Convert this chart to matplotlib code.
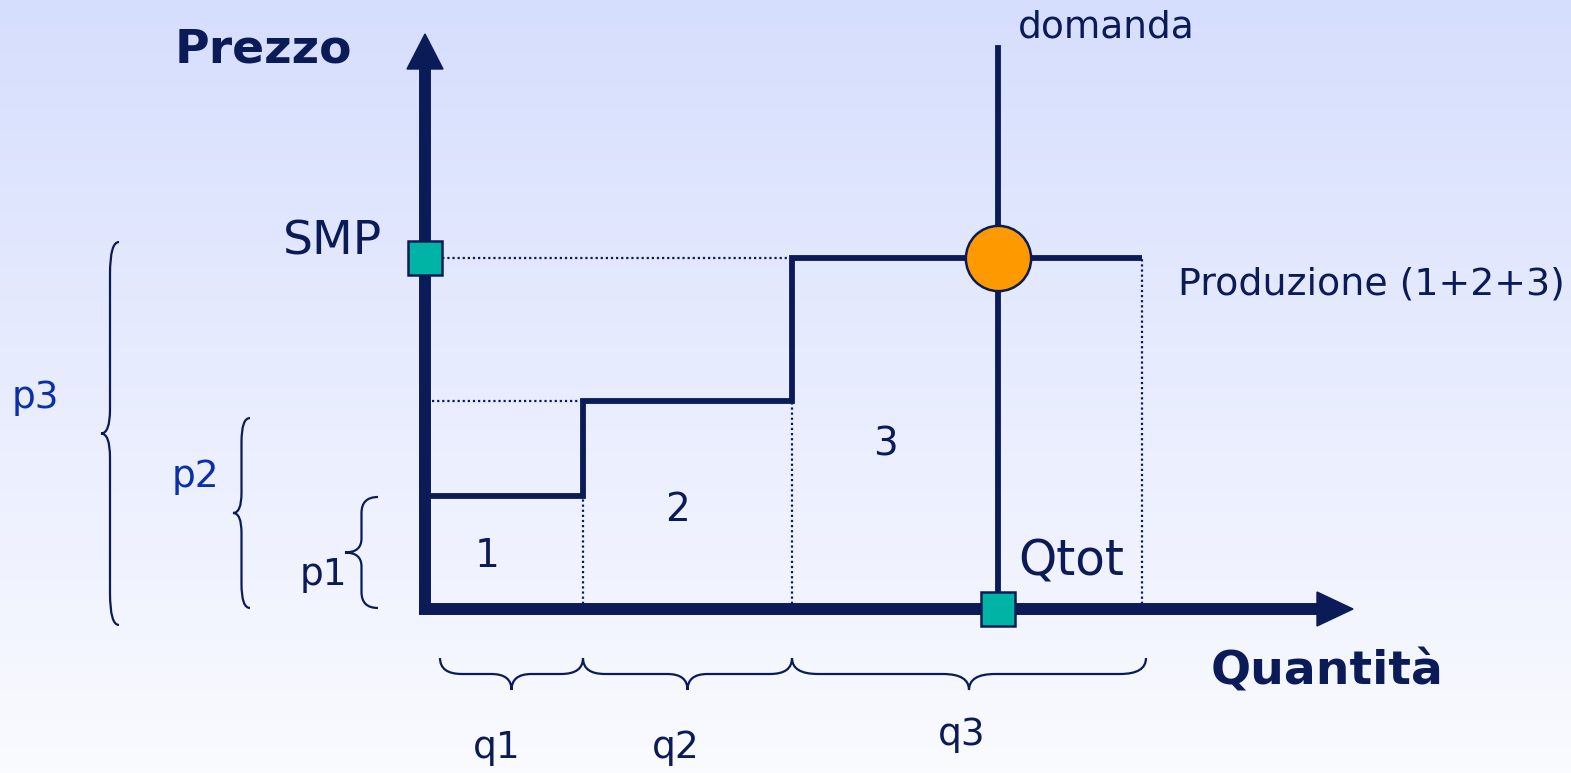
import numpy as np
import matplotlib.pyplot as plt
from matplotlib.path import Path
from matplotlib.patches import PathPatch, Polygon

# Quantities offered by the three producers and their prices
quantities = [15.8, 20.9, 35.0]
prices = [11.3, 20.8, 35.1]
q_labels = ['q1', 'q2', 'q3']
p_labels = ['p1', 'p2', 'p3']
block_labels = ['1', '2', '3']
q_tot = 57.3
smp = prices[-1]

navy = '#0b1b57'
blue = '#0a2fa8'
teal = '#00b4a5'
orange = '#ff9900'

edges = np.concatenate([[0], np.cumsum(quantities)])

fig = plt.figure(figsize=(15.71, 7.73), dpi=100)
ax = fig.add_axes([0, 0, 1, 1])
ax.set_xlim(-42.5, 114.6)
ax.set_ylim(-16.4, 60.9)
ax.axis('off')

# background gradient
grad = np.linspace(0, 1, 256).reshape(-1, 1)
top = np.array([214, 222, 253]) / 255
bot = np.array([250, 251, 255]) / 255
img = top + (bot - top) * grad[:, :, None]
ax.imshow(img, extent=[-42.5, 114.6, -16.4, 60.9], aspect='auto', zorder=0)


def brace(a, b, base, depth, vertical=False, r=1.5, rt=None):
    # curly brace between a and b, ends at base, tip at base - depth
    L = b - a
    m = L / 2
    h = depth / 2
    rt = r if rt is None else rt
    uv = [(0, 0), (0, h), (r, h), (m - rt, h), (m, h), (m, depth),
          (m, h), (m + rt, h), (L - r, h), (L, h), (L, 0)]
    codes = [Path.MOVETO, Path.CURVE3, Path.CURVE3, Path.LINETO,
             Path.CURVE3, Path.CURVE3, Path.CURVE3, Path.CURVE3,
             Path.LINETO, Path.CURVE3, Path.CURVE3]
    if vertical:
        verts = [(base - v, a + u) for u, v in uv]
    else:
        verts = [(a + u, base - v) for u, v in uv]
    ax.add_patch(PathPatch(Path(verts, codes), fill=False, edgecolor=navy,
                           lw=1.6, zorder=3))


# dotted guide lines
dots = dict(color=navy, lw=1.6, linestyle=(0, (1, 1.3)), zorder=2)
ax.plot([0.7, edges[2]], [smp, smp], **dots)
ax.plot([0.7, edges[1]], [prices[1], prices[1]], **dots)
for x, p in zip(edges[1:], prices):
    ax.plot([x, x], [0, p], **dots)

# supply curve
ax.stairs(prices, edges, baseline=None, color=navy, lw=4.2, zorder=4)

# demand
ax.plot([q_tot, q_tot], [0, 56.1], color=navy, lw=4.2, zorder=4)

# axes with arrows
ax.plot([0, 0], [0, 54.5], color=navy, lw=8.6, solid_capstyle='butt', zorder=5)
ax.plot([-0.6, 89.5], [0, 0], color=navy, lw=8.6, solid_capstyle='butt', zorder=5)
ax.add_patch(Polygon([(-1.8, 54.0), (1.8, 54.0), (0, 57.5)], color=navy, zorder=5))
ax.add_patch(Polygon([(89.2, -1.7), (89.2, 1.7), (92.8, 0)], color=navy, zorder=5))

# markers
ax.plot(0, smp, marker='s', ms=24, mfc=teal, mec=navy, mew=1.8, zorder=6)
ax.plot(q_tot, 0, marker='s', ms=24, mfc=teal, mec=navy, mew=1.8, zorder=6)
ax.plot(q_tot, smp, marker='o', ms=47, mfc=orange, mec=navy, mew=1.8, zorder=6)

# braces
brace(edges[0] + 1.5, edges[1], -4.9, 3.2, r=2.2, rt=2.0)
brace(edges[1], edges[2], -4.9, 3.2, r=2.2, rt=2.0)
brace(edges[2], edges[3] + 0.4, -4.9, 3.2, r=2.6, rt=2.6)
brace(0.1, 11.2, -4.7, 3.3, vertical=True, r=1.6, rt=1.4)
brace(0.1, 19.1, -17.5, 1.7, vertical=True, r=2.4, rt=2.0)
brace(-1.6, 36.7, -30.6, 1.8, vertical=True, r=3.2, rt=2.4)

fs = 27
ax.text(-16.2, 55.9, 'Prezzo', fontsize=34, fontweight='bold', color=navy,
        ha='center', va='center')
ax.text(90.2, -6.3, 'Quantità', fontsize=34, fontweight='bold', color=navy,
        ha='center', va='center')
ax.text(59.3, 58.1, 'domanda', fontsize=fs, color=navy, ha='left', va='center')
ax.text(-9.2, 36.7, 'SMP', fontsize=34, color=navy, ha='center', va='center')
ax.text(75.3, 32.4, 'Produzione (1+2+3)', fontsize=27.3, color=navy,
        ha='left', va='center')
ax.text(59.3, 4.7, 'Qtot', fontsize=35, color=navy, ha='left', va='center')

for lab, pos in zip(block_labels, [(6.2, 5.3), (25.3, 9.9), (46.0, 16.4)]):
    ax.text(*pos, lab, fontsize=28, color=navy, ha='center', va='center')
for lab, pos, c in zip(p_labels, [(-10.2, 3.4), (-23.0, 13.2), (-39.0, 21.1)],
                       [navy, blue, blue]):
    ax.text(*pos, lab, fontsize=fs, color=c, ha='center', va='center')
for lab, pos in zip(q_labels, [(7.2, -13.9), (25.1, -13.9), (53.7, -12.6)]):
    ax.text(*pos, lab, fontsize=fs, color=navy, ha='center', va='center')

fig.savefig('out.png', dpi=100)
